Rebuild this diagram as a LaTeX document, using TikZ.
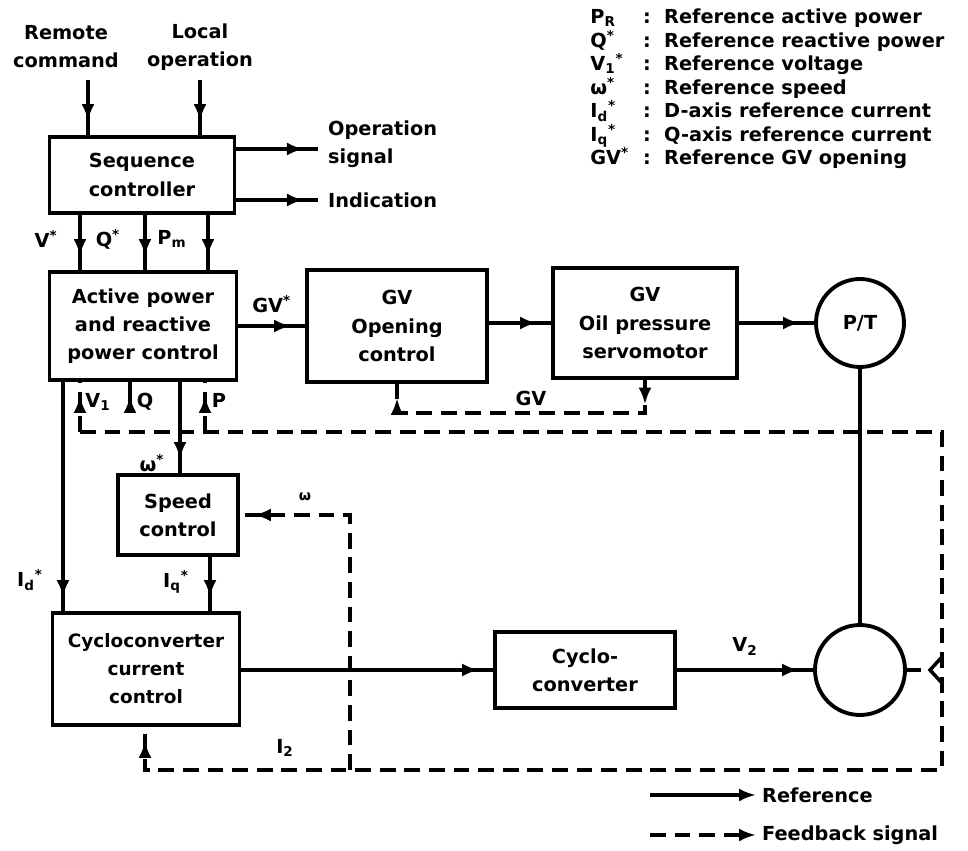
\documentclass[tikz,border=0pt]{standalone}
\usepackage{fontspec}
\setmainfont{DejaVu Sans}
\usetikzlibrary{arrows.meta, decorations.markings, positioning}

\begin{document}
\begin{tikzpicture}[
    x=0.02cm, y=-0.02cm,
    >={Latex[length=3.4mm, width=2.6mm]},
    every node/.style={font=\fontsize{11}{16}\selectfont\bfseries},
    box/.style={draw, line width=2.2pt, align=center, inner sep=1pt},
    circ/.style={draw, circle, line width=2.2pt, inner sep=0pt},
    wire/.style={line width=2pt},
    arr/.style={wire, postaction={decorate},
      decoration={markings, mark=at position -8pt with {\arrow{>}}}},
    fbline/.style={wire, dash pattern=on 9pt off 5pt},
    fb/.style={arr, dash pattern=on 9pt off 5pt}
  ]
    \useasboundingbox (0,0) rectangle (968,851);

    % blocks
    \node[box, minimum width=3.7cm, minimum height=1.52cm] (seq) at (142,175)
      {Sequence\\controller};
    \node[box, minimum width=3.74cm, minimum height=2.16cm] (act) at (143,326)
      {Active power\\and reactive\\power control};
    \node[box, minimum width=3.6cm, minimum height=2.24cm] (gvo) at (397,326)
      {GV\\Opening\\control};
    \node[box, minimum width=3.68cm, minimum height=2.2cm] (srv) at (645,323)
      {GV\\Oil pressure\\servomotor};
    \node[circ, minimum size=1.76cm] (pt) at (860,323) {P/T};
    \node[box, minimum width=2.4cm, minimum height=1.6cm] (spd) at (178,515)
      {Speed\\control};
    \node[box, minimum width=3.74cm, minimum height=2.24cm,
          font=\fontsize{10.5}{16}\selectfont\bfseries] (ccc) at (146,669)
      {Cycloconverter\\current\\control};
    \node[box, minimum width=3.6cm, minimum height=1.52cm] (cyc) at (585,670)
      {Cyclo-\\converter};
    \node[circ, minimum size=1.8cm] (gen) at (860,670) {};

    % inputs and outputs of the sequence controller
    \node[align=center] (rem) at (66,47) {Remote\\command};
    \node[align=center] (loc) at (200,47) {Local\\operation};
    \coordinate (remin) at (88,80);
    \coordinate (locin) at (200,80);
    \draw[arr] (remin) -- (remin |- seq.north);
    \draw[arr] (locin) -- (locin |- seq.north);
    \node[anchor=west, align=left] (optxt) at (322,144) {Operation\\signal};
    \node[anchor=west] (indtxt) at (322,200) {Indication};
    \coordinate (opout) at (318,149);
    \coordinate (indout) at (318,200);
    \draw[arr] (seq.east |- opout) -- (opout);
    \draw[arr] (seq.east |- indout) -- (indout);

    \foreach \x/\lx/\lab in {80/46/{V\textsuperscript{*}}, 145/108/{Q\textsuperscript{*}},
                             208/172/{P\textsubscript{m}}} {
      \draw[arr] (\x,0 |- seq.south) -- (\x,0 |- act.north);
      \node (set\x) at (\lx,239) {\lab};
    }

    % reference paths
    \draw[arr] (act) -- node[above=3pt] (gvref) {GV\textsuperscript{*}} (gvo);
    \draw[arr] (gvo.east |- srv) -- (srv);
    \draw[arr, line width=2.8pt] (srv) -- (pt);
    \draw[wire] (pt) -- (gen);
    \draw[arr] (63,0 |- act.south) -- (63,0 |- ccc.north);
    \node (idref) at (30,580) {I\textsubscript{d}\textsuperscript{*}};
    \draw[arr] (180,0 |- act.south) -- (180,0 |- spd.north);
    \node (wref) at (152,463) {ω\textsuperscript{*}};
    \draw[arr] (210,0 |- spd.south) -- (210,0 |- ccc.north);
    \node (iqref) at (176,582) {I\textsubscript{q}\textsuperscript{*}};
    \draw[arr] (ccc.east |- cyc) -- (cyc);
    \draw[arr] (cyc) -- node[above=4pt] (vtwo) {V\textsubscript{2}} (gen);

    % feedback paths
    \draw[fbline, postaction={decorate}, decoration={markings,
          mark=at position 14pt with {\arrow{>}},
          mark=at position -8pt with {\arrow{>}}}]
      (645,0 |- srv.south) -- (645,413) -| (gvo.south);
    \node (gvfb) at (531,398) {GV};
    \draw[fb] (80,432) -- (942,432) -- (942,770) -- (145,770) -- (145,0 |- ccc.south);
    \node (itwo) at (285,748) {I\textsubscript{2}};
    \draw[fb] (80,432) -- (80,0 |- act.south);
    \node (vone) at (98,402) {V\textsubscript{1}};
    \coordinate (qfb) at (130,406);
    \draw[arr] (qfb) -- (qfb |- act.south);
    \node (qlab) at (145,402) {Q};
    \draw[fb] (205,432) -- (205,0 |- act.south);
    \node (plab) at (219,400) {P};
    \draw[fb] (350,770) -- (350,515) -- (spd);
    \node[font=\fontsize{8}{9}\selectfont\bfseries] (wfb) at (305,497) {ω};
    \draw[wire] (gen.east) -- ++(14,0) coordinate (genout);
    \draw[wire] (942,657) -- (930,670) -- (942,683);

    % key
    \node[anchor=north west, inner sep=0pt, font=\fontsize{11}{12.4}\selectfont\bfseries]
      (key) at (590,8) {\begin{tabular}{@{}p{30pt}@{}l@{}}
      P\textsubscript{R} & :\ \ Reference active power\\
      Q\textsuperscript{*} & :\ \ Reference reactive power\\
      V\textsubscript{1}\textsuperscript{*} & :\ \ Reference voltage\\
      ω\textsuperscript{*} & :\ \ Reference speed\\
      I\textsubscript{d}\textsuperscript{*} & :\ \ D-axis reference current\\
      I\textsubscript{q}\textsuperscript{*} & :\ \ Q-axis reference current\\
      GV\textsuperscript{*} & :\ \ Reference GV opening
      \end{tabular}};

    \node[anchor=west] (reftxt) at (756,795) {Reference};
    \node[anchor=west] (fbtxt) at (756,835) {Feedback signal};
    \coordinate (refst) at (650,795);
    \coordinate (fbst) at (650,835);
    \draw[wire, ->] (refst) -- (reftxt.west);
    \draw[fbline, ->] (fbst) -- (fbtxt.west);
  \end{tikzpicture}
\end{document}
